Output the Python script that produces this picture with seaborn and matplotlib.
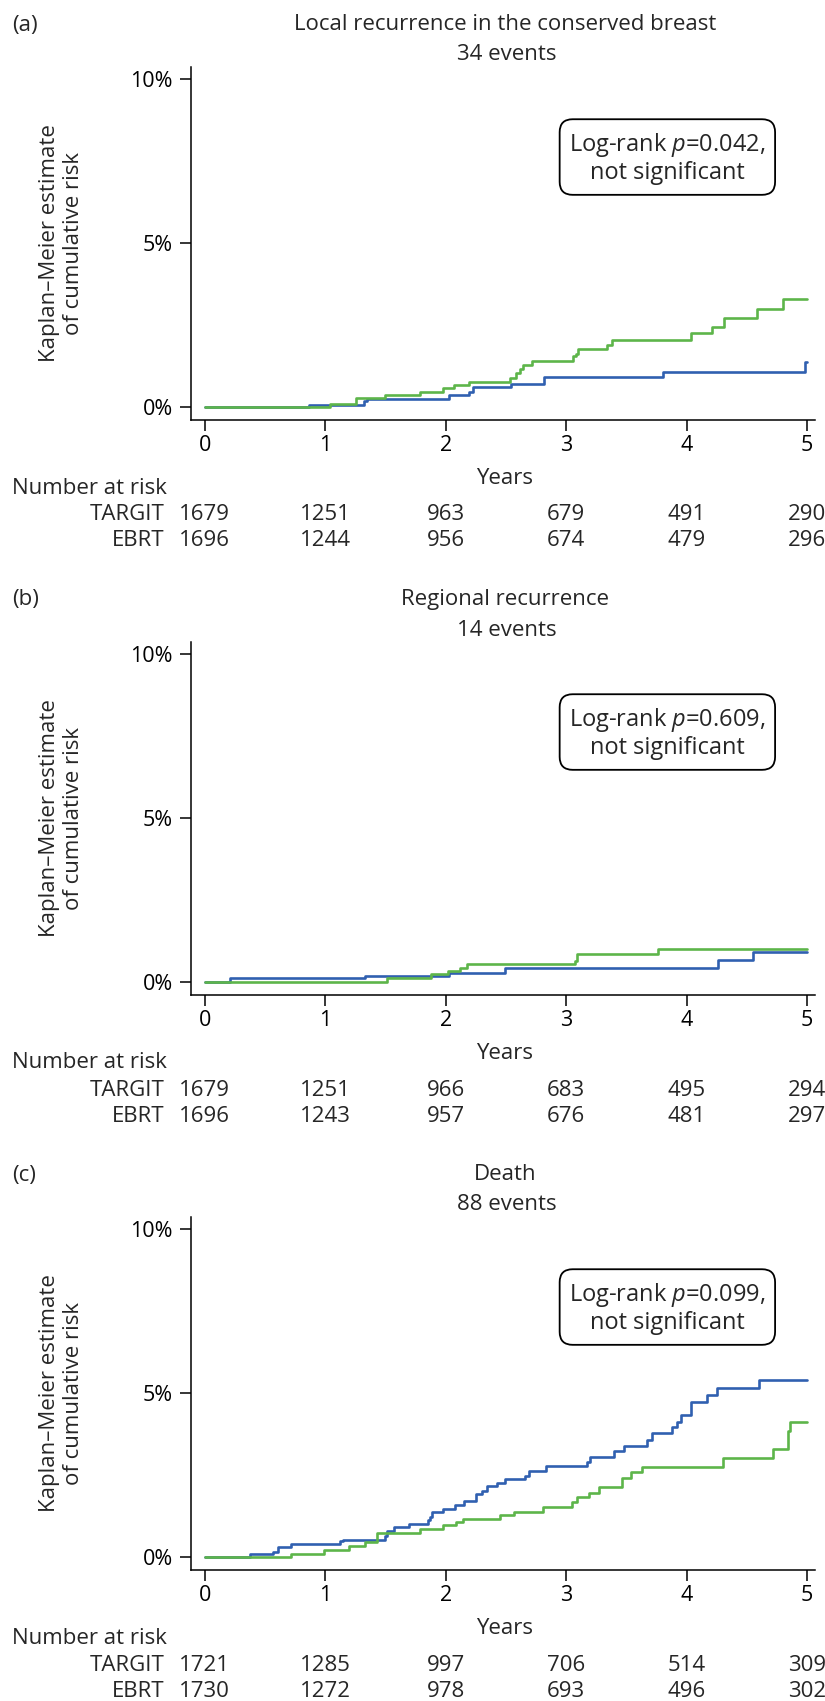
import numpy as np
import pandas as pd
import matplotlib
matplotlib.use("Agg")
import matplotlib.pyplot as plt
import matplotlib.transforms as mtransforms
import seaborn as sns

# ---------------- data ----------------
titles = ["Local recurrence in the conserved breast", "Regional recurrence", "Death"]
events = ["34 events", "14 events", "88 events"]
panel_labels = ["(a)", "(b)", "(c)"]
pvalues = ["0.042", "0.609", "0.099"]
arms = ["TARGIT", "EBRT"]
risk_times = [0, 1, 2, 3, 4, 5]

# Panel (a) local recurrence: step times (years) and cumulative risk (%)
a_targit_t = [0, 1.04, 1.255, 1.50, 1.79, 1.98, 2.07, 2.19, 2.53, 2.58, 2.62, 2.64, 2.72,
              3.06, 3.08, 3.10, 3.34, 3.38, 4.04, 4.21, 4.31, 4.58, 4.80, 5.0]
a_targit_y = [0, 0.09, 0.27, 0.36, 0.46, 0.56, 0.65, 0.76, 0.86, 1.02, 1.14, 1.27, 1.39,
              1.53, 1.61, 1.75, 1.88, 2.04, 2.26, 2.44, 2.71, 2.97, 3.28, 3.28]
a_ebrt_t = [0, 0.87, 1.32, 1.35, 2.03, 2.19, 2.23, 2.54, 2.82, 3.80, 4.98, 5.0]
a_ebrt_y = [0, 0.06, 0.17, 0.24, 0.36, 0.46, 0.60, 0.70, 0.89, 1.05, 1.37, 1.37]

# Panel (b) regional recurrence
b_targit_t = [0, 1.51, 1.88, 2.02, 2.12, 2.18, 3.07, 3.09, 3.76, 5.0]
b_targit_y = [0, 0.10, 0.22, 0.33, 0.42, 0.54, 0.64, 0.83, 1.00, 1.00]
b_ebrt_t = [0, 0.21, 1.33, 2.03, 2.49, 4.26, 4.55, 5.0]
b_ebrt_y = [0, 0.10, 0.17, 0.26, 0.40, 0.66, 0.91, 0.91]

# Panel (c) death
c_targit_t = [0, 0.72, 0.99, 1.20, 1.33, 1.43, 1.79, 1.98, 2.09, 2.14, 2.45, 2.57, 2.81,
              3.05, 3.09, 3.19, 3.27, 3.46, 3.54, 3.63, 4.30, 4.72, 4.84, 4.86, 5.0]
c_targit_y = [0, 0.07, 0.19, 0.31, 0.46, 0.73, 0.85, 0.96, 1.06, 1.15, 1.27, 1.37, 1.52,
              1.66, 1.81, 1.94, 2.11, 2.41, 2.59, 2.75, 3.00, 3.29, 3.84, 4.10, 4.10]
c_ebrt_t = [0, 0.38, 0.57, 0.61, 0.72, 1.12, 1.15, 1.50, 1.51, 1.57, 1.70, 1.85, 1.87, 1.89,
            1.98, 2.08, 2.15, 2.25, 2.30, 2.34, 2.43, 2.49, 2.66, 2.69, 2.83, 3.17, 3.20,
            3.40, 3.48, 3.67, 3.71, 3.88, 3.92, 3.95, 4.04, 4.17, 4.25, 4.60, 5.0]
c_ebrt_y = [0, 0.09, 0.15, 0.30, 0.39, 0.47, 0.52, 0.63, 0.78, 0.91, 1.00, 1.13, 1.22, 1.37,
            1.45, 1.57, 1.69, 1.90, 2.00, 2.14, 2.25, 2.38, 2.47, 2.61, 2.76, 2.90, 3.04,
            3.22, 3.38, 3.56, 3.76, 3.96, 4.12, 4.33, 4.71, 4.92, 5.16, 5.39, 5.39]

# Numbers at risk
a_risk_targit = [1679, 1251, 963, 679, 491, 290]
a_risk_ebrt = [1696, 1244, 956, 674, 479, 296]
b_risk_targit = [1679, 1251, 966, 683, 495, 294]
b_risk_ebrt = [1696, 1243, 957, 676, 481, 297]
c_risk_targit = [1721, 1285, 997, 706, 514, 309]
c_risk_ebrt = [1730, 1272, 978, 693, 496, 302]

panels = [
    (a_targit_t, a_targit_y, a_ebrt_t, a_ebrt_y, a_risk_targit, a_risk_ebrt),
    (b_targit_t, b_targit_y, b_ebrt_t, b_ebrt_y, b_risk_targit, b_risk_ebrt),
    (c_targit_t, c_targit_y, c_ebrt_t, c_ebrt_y, c_risk_targit, c_risk_ebrt),
]

# ---------------- style ----------------
sns.set_style("ticks")
FONT = ["Open Sans", "DejaVu Sans"]
plt.rcParams["font.family"] = FONT
plt.rcParams["mathtext.fontset"] = "custom"
plt.rcParams["mathtext.rm"] = "Open Sans"
plt.rcParams["mathtext.it"] = "Open Sans:italic"

W, H = 825, 1701
fig = plt.figure(figsize=(W / 100, H / 100), dpi=100)

GREEN = "#5db54a"
BLUE = "#3060b0"
FS = 16
FS_TICK = 15.5
FS_BOX = 17
PITCH = 575


def fy(px):
    return 1 - px / H


def fx(px):
    return px / W


for i, (tt, ty, et, ey, rt, re) in enumerate(panels):
    o = PITCH * i
    left, right, top, bottom = 191, 815, 67 + o, 420 + o
    ax = fig.add_axes([fx(left), fy(bottom), fx(right - left), (bottom - top) / H])

    df = pd.concat([
        pd.DataFrame({"Years": tt, "risk": ty, "arm": "TARGIT"}),
        pd.DataFrame({"Years": et, "risk": ey, "arm": "EBRT"}),
    ])
    sns.lineplot(data=df, x="Years", y="risk", hue="arm", estimator=None, sort=False,
                 palette={"TARGIT": GREEN, "EBRT": BLUE}, hue_order=["EBRT", "TARGIT"],
                 drawstyle="steps-post", linewidth=1.9, legend=False, ax=ax)

    ax.set_xlim(-0.113, 5.065)
    ax.set_ylim(-0.41, 10.37)
    ax.set_xticks(risk_times)
    ax.set_xticklabels([str(t) for t in risk_times], fontsize=FS_TICK)
    ax.set_yticks([0, 5, 10])
    ax.set_yticklabels(["0%", "5%", "10%"], fontsize=FS_TICK)
    ax.tick_params(axis="both", direction="out", length=8, width=1.1, color="black",
                   labelcolor="black")
    ax.tick_params(axis="x", pad=3)
    ax.tick_params(axis="y", pad=5)
    sns.despine(ax=ax)
    for s in ["left", "bottom"]:
        ax.spines[s].set_linewidth(1.1)
        ax.spines[s].set_color("black")
    ax.set_xlabel("")
    ax.set_ylabel("Kaplan\u2013Meier estimate\nof cumulative risk", fontsize=FS,
                  linespacing=1.15)
    ax.yaxis.set_label_coords(-0.172, 0.5)

    # p-value box
    ax.text(3.84, 7.59, f"Log-rank $p$=" + pvalues[i] + ",\nnot significant",
            ha="center", va="center", fontsize=FS_BOX, multialignment="center",
            linespacing=1.15,
            bbox=dict(boxstyle="round,pad=0.4,rounding_size=0.55", fc="white",
                      ec="black", lw=1.3))

    # titles and labels
    fig.text(fx(12), fy(25 + o), panel_labels[i], ha="left", va="center", fontsize=FS)
    fig.text(fx(505), fy(25 + o), titles[i], ha="center", va="center", fontsize=FS)
    fig.text(fx(507), fy(55 + o), events[i], ha="center", va="center", fontsize=FS)
    fig.text(fx(505), fy(478 + o), "Years", ha="center", va="center", fontsize=FS)

    # number at risk table
    trans = mtransforms.blended_transform_factory(ax.transData, fig.transFigure)
    fig.text(fx(12), fy(488 + o), "Number at risk", ha="left", va="center", fontsize=FS)
    for name, row, ypx in [(arms[0], rt, 515), (arms[1], re, 541)]:
        fig.text(fx(165), fy(ypx + o), name, ha="right", va="center", fontsize=FS)
        for t, n in zip(risk_times, row):
            ax.text(t, fy(ypx + o), str(n), transform=trans, ha="center", va="center",
                    fontsize=FS, clip_on=False)

fig.savefig("out.png", dpi=100, facecolor="white")
